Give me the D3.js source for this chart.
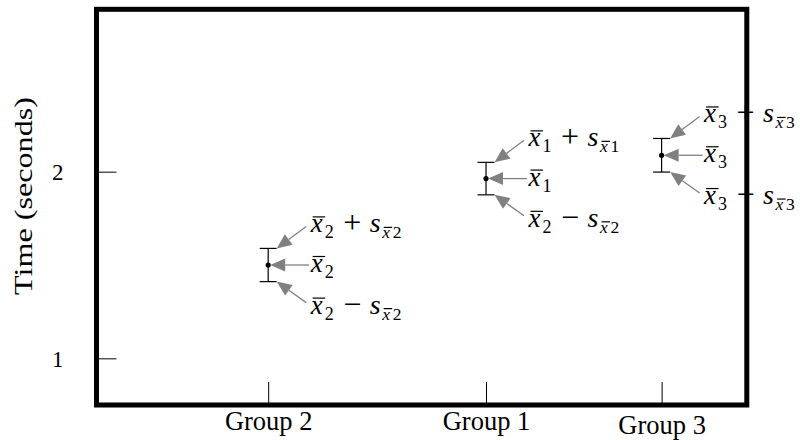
<!DOCTYPE html>
<html>
<head>
<meta charset="utf-8">
<script src="https://cdn.jsdelivr.net/npm/d3@7"></script>
<style>
  html, body { margin: 0; padding: 0; background: #fff; }
  svg { display: block; }
  text { font-family: "Liberation Serif", serif; fill: #000; }
</style>
</head>
<body>
<svg id="chart" width="800" height="440"></svg>
<script>
// Groups in the order they appear along the horizontal axis
const groups = ["Group 2", "Group 1", "Group 3"];
// Position of each group along the horizontal axis (0..1)
const groupPositions = [0.264, 0.599, 0.869];
// Mean time (seconds) and standard error of each group
const means = [1.50, 1.963, 2.088];
const errors = [0.089, 0.087, 0.090];
// Subscript indices used in the annotation labels (upper, mean, lower)
const upperIdx = ["2", "1", "3"];
const meanIdx = ["2", "1", "3"];
const lowerIdx = ["2", "2", "3"];
// Y-axis tick values
const yTicks = [1, 2];

const svg = d3.select("#chart");
const frame = { left: 96.5, right: 746.8, top: 9.3, bottom: 405 };

const x = d3.scaleLinear().domain([0, 1]).range([frame.left, frame.right]);
const y = d3.scaleLinear().domain([0.75, 2.87]).range([frame.bottom, frame.top]);

const data = groups.map((g, i) => ({
  group: g, pos: groupPositions[i], mean: means[i], err: errors[i],
  ui: upperIdx[i], mi: meanIdx[i], li: lowerIdx[i]
}));

// Y axis: ticks pointing into the plot, labels outside
const yAxis = d3.axisLeft(y).tickValues(yTicks).tickFormat(d3.format("d"))
  .tickSizeInner(-20).tickSizeOuter(0).tickPadding(33);
const gy = svg.append("g").attr("transform", `translate(${frame.left},0)`).call(yAxis);
gy.select(".domain").remove();
gy.selectAll(".tick line").attr("stroke", "#000").attr("stroke-width", 1);
gy.selectAll(".tick text").attr("font-size", 23).attr("dy", "0.34em")
  .style("font-family", "'Liberation Serif', serif");

// X axis: ticks pointing into the plot, group names below
const xAxis = d3.axisBottom(x).tickValues(groupPositions)
  .tickFormat((d, i) => groups[i]).tickSizeInner(-23).tickSizeOuter(0).tickPadding(0);
const gx = svg.append("g").attr("transform", `translate(0,${frame.bottom})`).call(xAxis);
gx.select(".domain").remove();
gx.selectAll(".tick line").attr("stroke", "#000").attr("stroke-width", 1);
gx.selectAll(".tick text")
  .attr("font-size", 26.5)
  .attr("dy", 0)
  .attr("y", (d, i) => groups[i] === "Group 3" ? 29 : 24.5)
  .style("font-family", "'Liberation Serif', serif");

// Y axis title
svg.append("text")
  .attr("transform", `translate(32,196) rotate(-90)`)
  .attr("text-anchor", "middle")
  .attr("font-size", 25)
  .attr("textLength", 198)
  .attr("lengthAdjust", "spacingAndGlyphs")
  .text("Time (seconds)");

// Error bars
const capHalf = 8.5;
const bars = svg.append("g");
data.forEach(d => {
  const cx = x(d.pos), yu = y(d.mean + d.err), yl = y(d.mean - d.err), ym = y(d.mean);
  bars.append("line").attr("x1", cx).attr("x2", cx).attr("y1", yu).attr("y2", yl)
    .attr("stroke", "#000").attr("stroke-width", 1.2);
  [yu, yl].forEach(yy => bars.append("line")
    .attr("x1", cx - capHalf).attr("x2", cx + capHalf).attr("y1", yy).attr("y2", yy)
    .attr("stroke", "#000").attr("stroke-width", 1.2));
  bars.append("circle").attr("cx", cx).attr("cy", ym).attr("r", 2.6).attr("fill", "#000");
});

// Annotation arrows
const arrowColor = "#808080";
function arrow(g, x0, y0, x1, y1) {
  const len = 15, half = 6.5;
  const dx = x1 - x0, dy = y1 - y0, L = Math.hypot(dx, dy);
  const ux = dx / L, uy = dy / L;
  const bx = x1 - ux * len, by = y1 - uy * len;
  g.append("line").attr("x1", x0).attr("y1", y0).attr("x2", bx).attr("y2", by)
    .attr("stroke", arrowColor).attr("stroke-width", 1.3);
  g.append("path")
    .attr("d", `M${x1},${y1}L${bx - uy * half},${by + ux * half}L${bx + uy * half},${by - ux * half}Z`)
    .attr("fill", arrowColor);
}

// Math-style label: x̄_i, optionally followed by ± s_{x̄_i}.
// The bars over x are drawn as separate strokes.
function mathLabel(g, lx, ly, idx, sign) {
  const t = g.append("text").attr("y", ly);
  const part = (dx, dy, fs, italic, str) => t.append("tspan")
    .attr("x", lx + dx).attr("y", ly + dy).attr("font-size", fs)
    .attr("font-style", italic ? "italic" : "normal").text(str);
  const bar = (x0, x1, yy) => g.append("line")
    .attr("x1", lx + x0).attr("x2", lx + x1).attr("y1", yy).attr("y2", yy)
    .attr("stroke", "#000").attr("stroke-width", 1.2);

  part(0, 0, 27, true, "x");
  bar(2, 14.5, ly - 15.5);
  part(14, 6, 18, false, idx);
  if (sign) {
    part(32.5, 1, 32, false, sign);
    part(59, 0, 28, true, "s");
    part(71.5, 6, 17.5, true, "x");
    bar(73, 81.5, ly + 6 - 11);
    part(82, 6, 17.5, false, idx);
  }
}

const ann = svg.append("g");
data.forEach(d => {
  const cx = x(d.pos), yu = y(d.mean + d.err), yl = y(d.mean - d.err), ym = y(d.mean);
  arrow(ann, cx + 38, yu - 22, cx + capHalf, yu);
  arrow(ann, cx + 41, ym, cx + 2, ym);
  arrow(ann, cx + 38, yl + 21, cx + capHalf, yl);
  mathLabel(ann, cx + 42.5, yu - 16, d.ui, "+");
  mathLabel(ann, cx + 42.5, ym + 7, d.mi, null);
  mathLabel(ann, cx + 42.5, yl + 32, d.li, "\u2212");
});

// Plot frame, drawn last so it sits above the labels
svg.append("rect")
  .attr("x", frame.left).attr("y", frame.top)
  .attr("width", frame.right - frame.left).attr("height", frame.bottom - frame.top)
  .attr("fill", "none").attr("stroke", "#000").attr("stroke-width", 5);
</script>
</body>
</html>
